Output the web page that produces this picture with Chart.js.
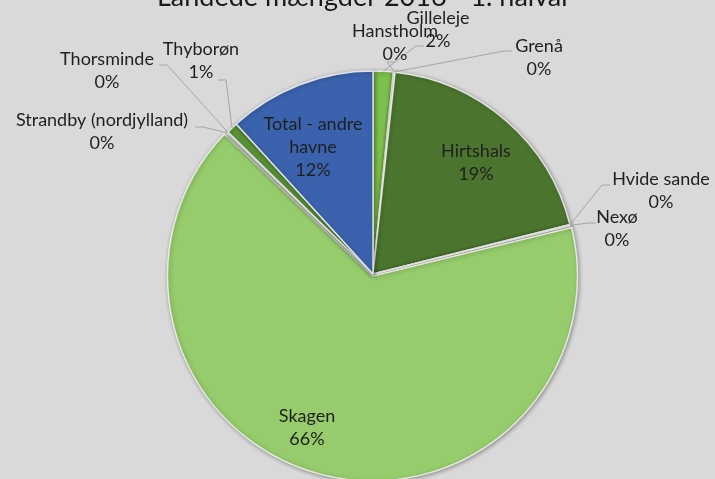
<!DOCTYPE html>
<html>
<head>
<meta charset="utf-8">
<script src="https://cdn.jsdelivr.net/npm/chart.js@4.4.0/dist/chart.umd.min.js"></script>
<style>
    html, body { margin: 0; padding: 0; background: #d9d9d9; }
    #wrap { width: 715px; height: 479px; }
</style>
</head>
<body>
<div id="wrap"><canvas id="landingChart"></canvas></div>
<script>
// Landede mængder - andel pr. havn
const havne = ["Gilleleje", "Grenå", "Hanstholm", "Hirtshals", "Hvide sande", "Nexø",
    "Skagen", "Strandby (nordjylland)", "Thorsminde", "Thyborøn", "Total - andre havne"];
const andel = [1.6, 0.04, 0.1, 19.4, 0.05, 0.05, 66.2, 0.1, 0.05, 0.9, 11.8];
const farver = ["#7cbf4c", "#6fae45", "#4a4a4a", "#4b752e", "#6fae45", "#6fae45",
    "#96cc6c", "#6fae45", "#6fae45", "#5a9438", "#3b63ad"];
const titel = "Landede mængder 2016 - 1. halvår";

// where each label sits, relative to the pie centre (px); lead = where the leader line starts
const labelSpots = {
    "Gilleleje": { x: 65, y: -244, lead: [51, -228] },
    "Grenå": { x: 166, y: -216, lead: [139, -223] },
    "Hanstholm": { x: 22, y: -231, lead: [22, -212] },
    "Hirtshals": { x: 103, y: -111 },
    "Hvide sande": { x: 288, y: -83, lead: [237, -89] },
    "Nexø": { x: 244, y: -45, lead: [223, -51] },
    "Skagen": { x: -66, y: 154 },
    "Strandby (nordjylland)": { x: -271, y: -142, lead: [-178, -147] },
    "Thorsminde": { x: -266, y: -203, lead: [-214, -209] },
    "Thyborøn": { x: -172, y: -213, lead: [-155, -194] },
    "Total - andre havne": { x: -60, y: -127, lines: ["Total - andre", "havne"] }
};

const bgPlugin = {
    id: "bg",
    beforeDraw(chart) {
        const ctx = chart.ctx;
        ctx.save();
        ctx.fillStyle = "#d9d9d9";
        ctx.fillRect(0, 0, chart.width, chart.height);
        // title, cut off at the top like the original
        ctx.fillStyle = "#1a1a1a";
        ctx.font = "27px Lato";
        ctx.textAlign = "center";
        ctx.textBaseline = "alphabetic";
        ctx.fillText(titel, 364, 6);
        ctx.restore();
    },
    beforeDatasetsDraw(chart) {
        const ctx = chart.ctx;
        ctx.save();
        ctx.shadowColor = "rgba(0, 0, 0, 0.35)";
        ctx.shadowBlur = 4;
        ctx.shadowOffsetX = 1;
        ctx.shadowOffsetY = 1;
    },
    afterDatasetsDraw(chart) {
        chart.ctx.restore();
    }
};

const labelPlugin = {
    id: "pieLabels",
    afterDraw(chart) {
        const ctx = chart.ctx;
        const meta = chart.getDatasetMeta(0);
        const total = andel.reduce((a, b) => a + b, 0);
        ctx.save();
        ctx.font = "18px Lato";
        ctx.fillStyle = "#1f1f1f";
        ctx.textAlign = "center";
        ctx.textBaseline = "middle";
        meta.data.forEach((arc, i) => {
            const spot = labelSpots[havne[i]];
            if (!spot) return;
            const cx = arc.x, cy = arc.y;
            const pct = Math.round(andel[i] / total * 100) + "%";
            const lines = (spot.lines || [havne[i]]).concat([pct]);
            const lh = 23;
            const top = cy + spot.y - (lines.length - 1) * lh / 2;
            lines.forEach((t, k) => ctx.fillText(t, cx + spot.x, top + k * lh));

            if (spot.lead) {
                const mid = (arc.startAngle + arc.endAngle) / 2;
                const r = arc.outerRadius;
                const ex = cx + Math.cos(mid) * r;
                const ey = cy + Math.sin(mid) * r;
                const sx = cx + spot.lead[0], sy = cy + spot.lead[1];
                const bx = sx + (ex > sx ? 8 : -8);
                ctx.beginPath();
                ctx.strokeStyle = "#a6a6a6";
                ctx.lineWidth = 1;
                ctx.moveTo(sx, sy);
                ctx.lineTo(bx, sy);
                ctx.lineTo(ex, ey);
                ctx.stroke();
            }
        });
        ctx.restore();
    }
};

new Chart(document.getElementById("landingChart"), {
    type: "pie",
    data: {
        labels: havne,
        datasets: [{
            data: andel,
            backgroundColor: farver,
            borderColor: "rgba(245, 245, 245, 0.85)",
            borderWidth: 1.5,
            offset: havne.map(h => h === "Skagen" ? 8 : 0)
        }]
    },
    options: {
        responsive: true,
        maintainAspectRatio: false,
        animation: false,
        radius: 203,
        layout: { padding: { top: 69, left: 31, right: 0, bottom: 0 } },
        plugins: {
            legend: { display: false },
            tooltip: { enabled: false },
            title: { display: false }
        }
    },
    plugins: [bgPlugin, labelPlugin]
});
</script>
</body>
</html>
